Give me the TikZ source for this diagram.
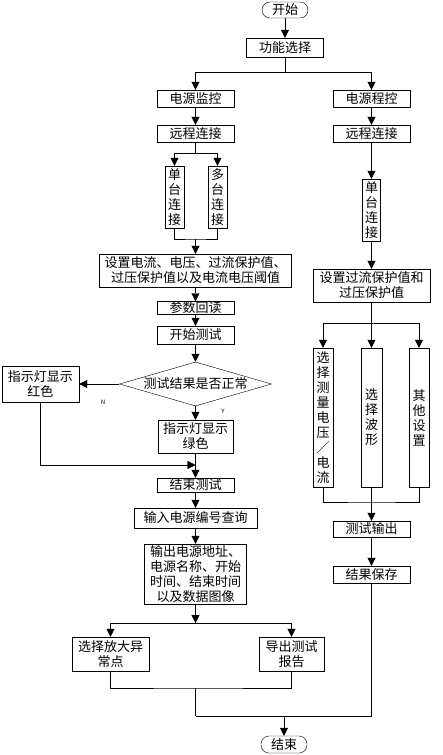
\documentclass[tikz,border=0pt]{standalone}
\usepackage{fontspec}
\setmainfont{Noto Sans CJK SC}
\usepackage{tikz}
\usetikzlibrary{shapes.geometric,arrows.meta}

\begin{document}
\begin{tikzpicture}[x=1pt,y=-1pt,
		box/.style={draw,fill=white,inner sep=0pt,align=center,font=\fontsize{13}{15}\selectfont},
		term/.style={box,rounded corners=8pt},
		arr/.style={-{Triangle[width=8pt,length=8pt]}},
		yn/.style={font=\fontsize{6}{6}\selectfont\itshape}]
		\useasboundingbox (0,0) rectangle (442,755);
		% top part
		\node[term,minimum width=46pt,minimum height=16pt] (start) at (285,10) {开始};
		\node[box,minimum width=77pt,minimum height=19pt] (func) at (285,47.5) {功能选择};
		\node[box,minimum width=77pt,minimum height=17pt] (jk) at (195.5,98.5) {电源监控};
		\node[box,minimum width=77pt,minimum height=17pt] (ck) at (371.5,98.5) {电源程控};
		\coordinate (s1) at (285,72);
		\draw[arr] (start) -- (func);
		\draw (func) -- (s1);
		\draw[arr] (s1) -| (jk);
		\draw[arr] (s1) -| (ck);
		% left branch
		\begin{scope}
			\node[box,minimum width=77pt,minimum height=17pt] (ycl) at (195.5,133.5) {远程连接};
			\node[box,minimum width=19pt,minimum height=62pt] (dt) at (174.5,197) {单\\台\\连\\接};
			\node[box,minimum width=19pt,minimum height=62pt] (duo) at (217.5,197) {多\\台\\连\\接};
			\node[box,minimum width=192pt,minimum height=33pt] (szl) at (195.5,270.5) {设置电流、电压、过流保护值、\\过压保护值以及电流电压阈值};
			\node[box,minimum width=77pt,minimum height=13pt] (csh) at (195.5,308) {参数回读};
			\node[box,minimum width=77pt,minimum height=18pt] (kscs) at (195.5,335) {开始测试};
			\node[box,diamond,aspect=3.45,minimum width=152pt,minimum height=44pt] (pd) at (195.5,384) {测试结果是否正常};
			\node[box,minimum width=77pt,minimum height=36pt] (red) at (40.5,384) {指示灯显示\\红色};
			\node[box,minimum width=75pt,minimum height=33pt] (green) at (195.5,436.5) {指示灯显示\\绿色};
			\node[box,minimum width=77pt,minimum height=14pt] (jscs) at (195.5,485) {结束测试};
			\node[box,minimum width=123pt,minimum height=20pt] (srcx) at (195.5,518) {输入电源编号查询};
			\node[box,minimum width=102pt,minimum height=60pt] (sc) at (195.5,574) {输出电源地址、\\电源名称、开始\\时间、结束时间\\以及数据图像};
			\node[box,minimum width=77pt,minimum height=34pt] (fd) at (110.5,654) {选择放大异\\常点};
			\node[box,minimum width=65pt,minimum height=34pt] (bg) at (291.5,654) {导出测试\\报告};
			\node[yn] (n) at (103,402) {N};
			\node[yn] (y) at (223,411) {Y};
			\coordinate (s2) at (195.5,153);
			\coordinate (j1) at (195.5,239);
			\coordinate (j2) at (195.5,465);
			\coordinate (s3) at (195.5,623);
			\coordinate (j3) at (195.5,688);
			\coordinate (j4) at (195.5,716);
			\draw[arr] (jk) -- (ycl);
			\draw (ycl) -- (s2);
			\draw[arr] (s2) -| (dt);
			\draw[arr] (s2) -| (duo);
			\draw (dt) |- (j1) -| (duo);
			\draw[arr] (j1) -- (szl);
			\draw[arr] (szl) -- (csh);
			\draw[arr] (csh) -- (kscs);
			\draw[arr] (kscs) -- (pd);
			\draw[arr] (pd.west) -- (red.east);
			\draw[arr] (pd) -- (green);
			\draw[arr] (red) |- (j2);
			\draw[arr] (green) -- (jscs);
			\draw[arr] (jscs) -- (srcx);
			\draw[arr] (srcx) -- (sc);
			\draw[arr] (sc) -- (s3);
			\draw[arr] (s3) -| (fd);
			\draw[arr] (s3) -| (bg);
			\draw (fd) |- (j3) -| (bg);
			\draw (j3) -- (j4);
		\end{scope}
		% right branch
		\begin{scope}
			\node[box,minimum width=77pt,minimum height=17pt] (ycr) at (371.5,133.5) {远程连接};
			\node[box,minimum width=18pt,minimum height=62pt] (dtr) at (371.5,210) {单\\台\\连\\接};
			\node[box,minimum width=117pt,minimum height=33pt] (szr) at (371.5,285.5) {设置过流保护值和\\过压保护值};
			\node[box,minimum width=20pt,minimum height=139pt] (cl) at (323,417.5) {选\\择\\测\\量\\电\\压\\／\\电\\流};
			\node[box,minimum width=21pt,minimum height=139pt] (bx) at (371.5,417.5) {选\\择\\波\\形};
			\node[box,minimum width=20pt,minimum height=139pt] (qt) at (419,417.5) {其\\他\\设\\置};
			\node[box,minimum width=77pt,minimum height=16pt] (csout) at (371.5,529) {测试输出};
			\node[box,minimum width=77pt,minimum height=17pt] (bc) at (371.5,574.5) {结果保存};
			\node[term,minimum width=46pt,minimum height=17pt] (end) at (284,744.5) {结束};
			\coordinate (s4) at (371.5,323);
			\coordinate (j6) at (371.5,502);
			\draw[arr] (ck) -- (ycr);
			\draw[arr] (ycr) -- (dtr);
			\draw[arr] (dtr) -- (szr);
			\draw (szr) -- (s4);
			\draw[arr] (s4) -| (cl);
			\draw[arr] (s4) -- (bx);
			\draw[arr] (s4) -| (qt);
			\draw (cl) |- (j6) -| (qt);
			\draw (bx) -- (j6);
			\draw[arr] (j6) -- (csout);
			\draw[arr] (csout) -- (bc);
			\draw (bc) |- (j4);
			\draw[arr] (end.north |- j4) -- (end);
		\end{scope}
\end{tikzpicture}
\end{document}
